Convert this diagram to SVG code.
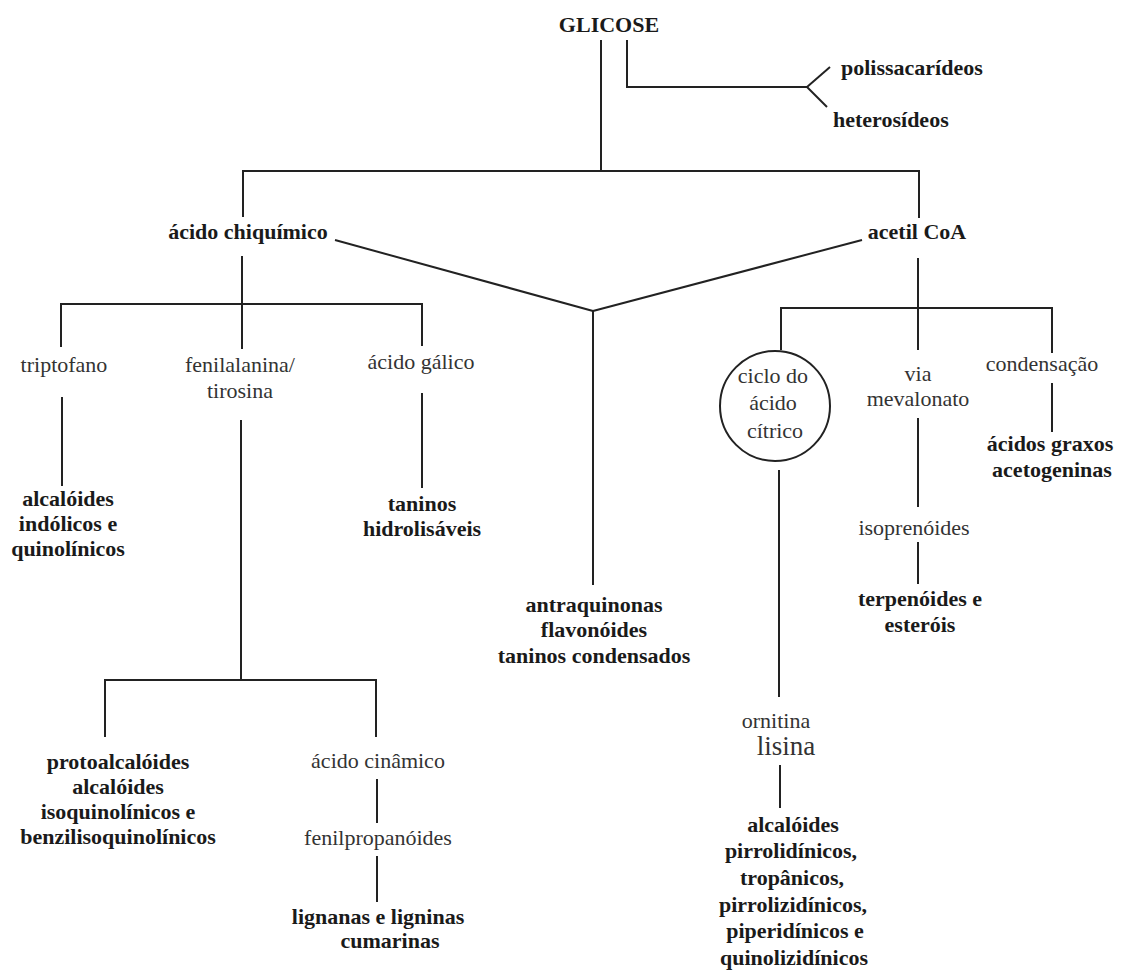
<svg xmlns="http://www.w3.org/2000/svg" width="1121" height="973" viewBox="0 0 1121 973">
<style>
.b{font-family:"Liberation Serif","Times New Roman",serif;font-weight:bold;font-size:22px;fill:#1a1a1a;text-anchor:middle}
.r{font-family:"Liberation Serif","Times New Roman",serif;font-size:22px;fill:#333;text-anchor:middle}
.l{text-anchor:start}
#connectors line,#connectors polyline{stroke:#222;stroke-width:2;fill:none}
</style>
<rect width="1121" height="973" fill="#fff"/>
<g id="connectors">
<line x1="601" y1="40" x2="601" y2="171"/>
<polyline points="627,40 627,87 807,87"/>
<line x1="807" y1="87" x2="830" y2="67"/>
<line x1="807" y1="87" x2="827" y2="107"/>
<line x1="243" y1="171" x2="919" y2="171"/>
<line x1="243" y1="170" x2="243" y2="217"/>
<line x1="919" y1="170" x2="919" y2="218"/>
<line x1="335" y1="240" x2="593" y2="311"/>
<line x1="862" y1="240" x2="593" y2="311"/>
<line x1="593" y1="311" x2="593" y2="585"/>
<line x1="242" y1="256" x2="242" y2="349"/>
<line x1="61" y1="304" x2="422" y2="304"/>
<line x1="61" y1="303" x2="61" y2="347"/>
<line x1="422" y1="303" x2="422" y2="346"/>
<line x1="62" y1="397" x2="62" y2="486"/>
<line x1="241" y1="420" x2="241" y2="680"/>
<line x1="105" y1="680" x2="376" y2="680"/>
<line x1="105" y1="679" x2="105" y2="737"/>
<line x1="376" y1="679" x2="376" y2="737"/>
<line x1="377" y1="779" x2="377" y2="823"/>
<line x1="377" y1="856" x2="377" y2="902"/>
<line x1="422" y1="393" x2="422" y2="488"/>
<line x1="918" y1="258" x2="918" y2="350"/>
<line x1="781" y1="308" x2="1052" y2="308"/>
<line x1="781" y1="307" x2="781" y2="350"/>
<line x1="1052" y1="307" x2="1052" y2="353"/>
<line x1="1052" y1="383" x2="1052" y2="432"/>
<line x1="918" y1="418" x2="918" y2="507"/>
<line x1="918" y1="542" x2="918" y2="584"/>
<line x1="779" y1="470" x2="779" y2="697"/>
<line x1="780" y1="765" x2="780" y2="808"/>
</g>
<g id="glicose"><text class="b" x="609" y="32">GLICOSE</text></g>
<g id="polissacarideos"><text class="b l" x="841" y="75">polissacarídeos</text></g>
<g id="heterosideos"><text class="b l" x="833" y="127">heterosídeos</text></g>
<g id="acido-chiquimico"><text class="b" x="248" y="239">ácido chiquímico</text></g>
<g id="acetil-coa"><text class="b" x="917" y="239">acetil CoA</text></g>
<g id="triptofano"><text class="r" x="64" y="372">triptofano</text></g>
<g id="fenilalanina"><text class="r" x="240" y="372">fenilalanina/</text><text class="r" x="240" y="398">tirosina</text></g>
<g id="acido-galico"><text class="r" x="421" y="369">ácido gálico</text></g>
<g id="alcaloides-indolicos"><text class="b" x="68" y="506">alcalóides</text><text class="b" x="68" y="531">indólicos e</text><text class="b" x="68" y="556">quinolínicos</text></g>
<g id="taninos-hidrolisaveis"><text class="b" x="422" y="511">taninos</text><text class="b" x="422" y="536">hidrolisáveis</text></g>
<g id="antraquinonas"><text class="b" x="594" y="612">antraquinonas</text><text class="b" x="594" y="637">flavonóides</text><text class="b" x="594" y="663">taninos condensados</text></g>
<g id="ciclo-acido-citrico"><circle cx="775" cy="406" r="55" fill="none" stroke="#222" stroke-width="2"/><text class="r" x="773" y="383">ciclo do</text><text class="r" x="773" y="410">ácido</text><text class="r" x="775" y="438">cítrico</text></g>
<g id="via-mevalonato"><text class="r" x="918" y="381">via</text><text class="r" x="918" y="406">mevalonato</text></g>
<g id="condensacao"><text class="r" x="1042" y="371">condensação</text></g>
<g id="acidos-graxos"><text class="b" x="1050" y="451">ácidos graxos</text><text class="b" x="1052" y="477">acetogeninas</text></g>
<g id="isoprenoides"><text class="r" x="914" y="535">isoprenóides</text></g>
<g id="terpenoides"><text class="b" x="920" y="606">terpenóides e</text><text class="b" x="920" y="632">esteróis</text></g>
<g id="ornitina-lisina"><text class="r" x="776" y="728">ornitina</text><text class="r" x="786" y="755" style="font-size:27px">lisina</text></g>
<g id="alcaloides-pirrolidinicos"><text class="b" x="793" y="832">alcalóides</text><text class="b" x="791" y="858">pirrolidínicos,</text><text class="b" x="792" y="885">tropânicos,</text><text class="b" x="793" y="912">pirrolizidínicos,</text><text class="b" x="795" y="938">piperidínicos e</text><text class="b" x="794" y="965">quinolizidínicos</text></g>
<g id="protoalcaloides"><text class="b" x="118" y="769">protoalcalóides</text><text class="b" x="118" y="794">alcalóides</text><text class="b" x="118" y="819">isoquinolínicos e</text><text class="b" x="118" y="844">benzilisoquinolínicos</text></g>
<g id="acido-cinamico"><text class="r" x="378" y="768">ácido cinâmico</text></g>
<g id="fenilpropanoides"><text class="r" x="378" y="845">fenilpropanóides</text></g>
<g id="lignanas"><text class="b" x="378" y="924">lignanas e ligninas</text><text class="b" x="390" y="948">cumarinas</text></g>
</svg>
